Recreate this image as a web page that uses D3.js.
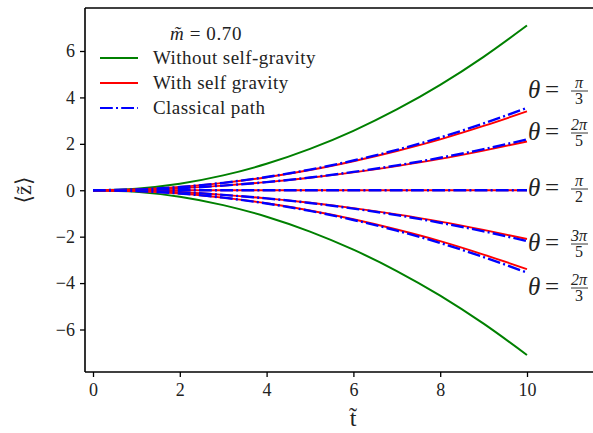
<!DOCTYPE html>
<html>
<head>
<meta charset="utf-8">
<script src="https://cdn.jsdelivr.net/npm/d3@7"></script>
<style>
  body { margin: 0; background: #fff; }
  text { font-family: "Liberation Serif", "DejaVu Serif", serif; }
</style>
</head>
<body>
<svg id="chart" width="593" height="433"></svg>
<script>
var tValues = [0, 1, 2, 3, 4, 5, 6, 7, 8, 9, 10];
var noGravity = [0, 0.07, 0.28, 0.64, 1.14, 1.78, 2.56, 3.48, 4.54, 5.75, 7.10];
var classicalPi3 = [0, 0.036, 0.142, 0.32, 0.57, 0.89, 1.28, 1.74, 2.27, 2.88, 3.55];
var gravityPi3 = [0, 0.036, 0.142, 0.32, 0.56, 0.87, 1.25, 1.69, 2.19, 2.77, 3.40];
var classical2Pi5 = [0, 0.022, 0.088, 0.20, 0.35, 0.55, 0.79, 1.07, 1.40, 1.77, 2.19];
var gravity2Pi5 = [0, 0.022, 0.088, 0.20, 0.35, 0.54, 0.77, 1.04, 1.35, 1.71, 2.10];
var flatPi2 = [0, 0, 0, 0, 0, 0, 0, 0, 0, 0, 0];
var xTicks = [0, 2, 4, 6, 8, 10];
var yTicks = [-6, -4, -2, 0, 2, 4, 6];
var legendLabels = ["Without self-gravity", "With self gravity", "Classical path"];
var thetaLabels = [
  {num: "π", den: "3"},
  {num: "2π", den: "5"},
  {num: "π", den: "2"},
  {num: "3π", den: "5"},
  {num: "2π", den: "3"}
];

function neg(arr) { return arr.map(function(v){ return -v; }); }

var svg = d3.select("#chart");
var pLeft = 85, pTop = 8, pRight = 600, pBottom = 372;

var x = d3.scaleLinear().domain([0, 10]).range([93, 527]);
var y = d3.scaleLinear().domain([-6, 6]).range([329.5, 51]);

svg.append("defs").append("clipPath").attr("id", "clip")
  .append("rect").attr("x", pLeft).attr("y", pTop)
  .attr("width", pRight - pLeft).attr("height", pBottom - pTop);

var line = d3.line()
  .x(function(d, i){ return x(tValues[i]); })
  .y(function(d){ return y(d); })
  .curve(d3.curveMonotoneX);

var plot = svg.append("g").attr("clip-path", "url(#clip)");

// green first, then red / blue pairs
var greens = [noGravity, neg(noGravity)];
greens.forEach(function(s){
  plot.append("path").attr("d", line(s))
    .attr("fill", "none").attr("stroke", "green").attr("stroke-width", 2);
});

var pairs = [
  [gravityPi3, classicalPi3],
  [gravity2Pi5, classical2Pi5],
  [flatPi2, flatPi2],
  [neg(gravity2Pi5), neg(classical2Pi5)],
  [neg(gravityPi3), neg(classicalPi3)]
];
pairs.forEach(function(p){
  plot.append("path").attr("d", line(p[0]))
    .attr("fill", "none").attr("stroke", "red").attr("stroke-width", 1.9);
  plot.append("path").attr("d", line(p[1]))
    .attr("fill", "none").attr("stroke", "blue").attr("stroke-width", 2.4)
    .attr("stroke-dasharray", "12.8,3.2,2,3.2");
});

// axes
var xAxis = svg.append("g").attr("transform", "translate(0," + pBottom + ")")
  .call(d3.axisBottom(x).tickValues(xTicks).tickSize(5).tickPadding(6).tickFormat(d3.format("d")));
var yAxis = svg.append("g").attr("transform", "translate(" + pLeft + ",0)")
  .call(d3.axisLeft(y).tickValues(yTicks).tickSize(5).tickPadding(5).tickFormat(d3.format("d")));
[xAxis, yAxis].forEach(function(a){
  a.select(".domain").remove();
  a.selectAll(".tick line").attr("stroke", "#000").attr("stroke-width", 1.3);
  a.selectAll(".tick text").attr("font-family", "Liberation Serif").attr("font-size", 18).attr("fill", "#222");
});

// spines
svg.append("line").attr("x1", pLeft).attr("x2", pLeft).attr("y1", pTop).attr("y2", pBottom)
  .attr("stroke", "#000").attr("stroke-width", 1.6);
svg.append("line").attr("x1", pLeft).attr("x2", pRight).attr("y1", pBottom).attr("y2", pBottom)
  .attr("stroke", "#000").attr("stroke-width", 1.6);
svg.append("line").attr("x1", pLeft).attr("x2", pRight).attr("y1", pTop).attr("y2", pTop)
  .attr("stroke", "#000").attr("stroke-width", 1.6);

// axis labels
svg.append("text").attr("x", 353).attr("y", 426).attr("text-anchor", "middle")
  .attr("font-size", 24).attr("fill", "#222").text("t\u0303");
svg.append("text").attr("transform", "translate(31,190) rotate(-90)")
  .attr("text-anchor", "middle").attr("font-size", 22).attr("fill", "#222")
  .text("\u27E8z\u0303\u27E9");

// legend
var legend = svg.append("g");
var title = legend.append("text").attr("x", 170).attr("y", 40).attr("font-size", 19)
  .attr("letter-spacing", 0.6).attr("fill", "#222");
title.append("tspan").attr("font-style", "italic").text("m\u0303");
title.append("tspan").text(" = 0.70");
var legendColors = ["green", "red", "blue"];
legendLabels.forEach(function(lab, i){
  var ly = 58 + i * 25;
  var l = legend.append("line").attr("x1", 100).attr("x2", 138).attr("y1", ly).attr("y2", ly)
    .attr("stroke", legendColors[i]).attr("stroke-width", 2);
  if (i == 2) l.attr("stroke-dasharray", "12.8,3.2,2,3.2");
  legend.append("text").attr("x", 153).attr("y", ly + 6).attr("font-size", 19)
    .attr("letter-spacing", 0.45).attr("fill", "#222").text(lab);
});

// theta labels at the right
var labelY = [90, 132, 188, 243, 287];
thetaLabels.forEach(function(d, i){
  var cy = labelY[i];
  var g = svg.append("g");
  g.append("text").attr("x", 528).attr("y", cy + 8).attr("font-size", 25)
    .attr("font-style", "italic").attr("fill", "#222").text("θ");
  g.append("text").attr("x", 545).attr("y", cy + 8).attr("font-size", 25)
    .attr("fill", "#222").text("=");
  g.append("text").attr("x", 579).attr("y", cy - 2).attr("font-size", 16)
    .attr("text-anchor", "middle").attr("font-style", "italic").attr("fill", "#222").text(d.num);
  g.append("line").attr("x1", 571).attr("x2", 588).attr("y1", cy + 1).attr("y2", cy + 1)
    .attr("stroke", "#222").attr("stroke-width", 0.9);
  g.append("text").attr("x", 579).attr("y", cy + 14).attr("font-size", 16)
    .attr("text-anchor", "middle").attr("fill", "#222").text(d.den);
});
</script>
</body>
</html>
